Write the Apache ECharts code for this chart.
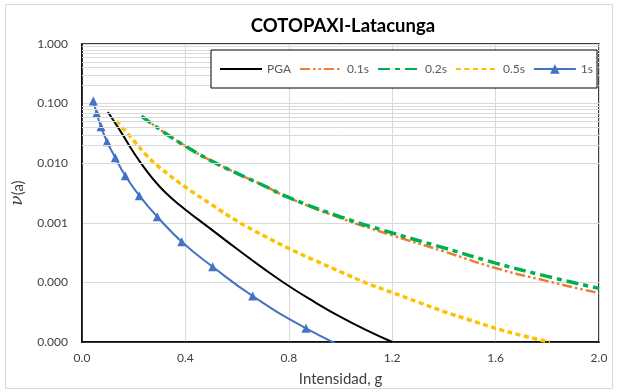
<!DOCTYPE html>
<html>
<head>
<meta charset="utf-8">
<script src="https://cdn.jsdelivr.net/npm/echarts@6/dist/echarts.min.js"></script>
<style>
  html, body { margin: 0; padding: 0; background: #fff; }
  #chart { width: 618px; height: 392px; }
</style>
</head>
<body>
<div id="chart"></div>
<script>
// Annual exceedance rate vs. intensity, COTOPAXI - Latacunga
const seriesNames = ['PGA', '0.1s', '0.2s', '0.5s', '1s'];

const pgaX = [0.1, 0.15, 0.2, 0.25, 0.3, 0.35, 0.4, 0.5, 0.6, 0.7, 0.8, 0.9, 1.0, 1.1, 1.2];
const pgaY = [0.0724, 0.0339, 0.0151, 0.00741, 0.00407, 0.00251, 0.00166, 0.000776, 0.000363,
              0.000174, 0.0000871, 0.0000468, 0.0000263, 0.0000158, 0.0000100];

const sa01X = [0.23, 0.3, 0.4, 0.5, 0.6, 0.7, 0.8, 1.0, 1.2, 1.4, 1.6, 1.8, 2.0];
const sa01Y = [0.0617, 0.0372, 0.0193, 0.01096, 0.00676, 0.00427, 0.00263, 0.00120, 0.000617,
               0.000331, 0.000174, 0.000105, 0.0000661];

const sa02X = [0.23, 0.3, 0.4, 0.5, 0.6, 0.7, 0.8, 1.0, 1.2, 1.4, 1.6, 1.8, 2.0];
const sa02Y = [0.0617, 0.0372, 0.0193, 0.01096, 0.00676, 0.00427, 0.00266, 0.00126, 0.000676,
               0.000380, 0.000211, 0.000126, 0.0000794];

const sa05X = [0.134, 0.2, 0.25, 0.3, 0.4, 0.5, 0.6, 0.7, 0.8, 0.9, 1.0, 1.1, 1.2, 1.3, 1.4, 1.5, 1.6, 1.7, 1.81];
const sa05Y = [0.0513, 0.0240, 0.0135, 0.00851, 0.00398, 0.00204, 0.00107, 0.000617, 0.000372,
               0.000234, 0.000151, 0.0000977, 0.0000676, 0.0000468, 0.0000324, 0.0000234,
               0.0000170, 0.0000129, 0.0000100];

const sa10X = [0.0437, 0.0569, 0.0735, 0.0967, 0.1288, 0.1675, 0.2217, 0.2913, 0.3857, 0.5056, 0.6603, 0.8665, 1.14];
const sa10Y = [0.1106, 0.0687, 0.0410, 0.0230, 0.01236, 0.00617, 0.00285, 0.001265, 0.000482,
               0.000183, 0.0000591, 0.0000170, 0.0000045];

const xTicks = { min: 0, max: 2.0, step: 0.4 };
const yRange = { min: 0.00001, max: 1 };

const FONT = 'Lato, "Liberation Sans", sans-serif';

function zip(xs, ys) { return xs.map((x, i) => [x, ys[i]]); }

// light minor gridlines at 2..9 within each decade of the log axis
const minorLines = [];
for (let e = -5; e < 0; e++) {
  for (let m = 2; m <= 9; m++) minorLines.push({ yAxis: m * Math.pow(10, e) });
}

// legend entries: plain line icons, except the marker series
const hidden = { opacity: 0, color: 'transparent', borderWidth: 0 };
const legendData = seriesNames.map(n => n === '1s' ? { name: n } : { name: n, itemStyle: hidden });

const chart = echarts.init(document.getElementById('chart'), null, { renderer: 'canvas' });

chart.setOption({
  animation: false,
  backgroundColor: '#fff',
  textStyle: { fontFamily: FONT },
  graphic: [{
    type: 'rect', silent: true, z: -10,
    shape: { x: 5.5, y: 4.5, width: 607, height: 384 },
    style: { fill: '#fff', stroke: '#d9d9d9', lineWidth: 1 }
  }],
  title: {
    text: 'COTOPAXI-Latacunga',
    left: 338, top: 12, textAlign: 'center',
    textStyle: { fontFamily: FONT, fontSize: 18.5, fontWeight: 'bold', color: '#000' }
  },
  legend: {
    data: legendData,
    left: 211, top: 50, z: 10,
    itemWidth: 42, itemHeight: 12, itemGap: 8,
    padding: [13, 4, 13, 8],
    borderColor: '#000', borderWidth: 1,
    backgroundColor: '#fff',
    textStyle: { fontFamily: FONT, fontSize: 12, color: '#595959' }
  },
  grid: {
    left: 82, right: 19, top: 44, bottom: 50,
    show: true, borderColor: '#000', borderWidth: 1.5,
    containLabel: false
  },
  xAxis: {
    type: 'value',
    min: xTicks.min, max: xTicks.max, interval: xTicks.step,
    name: 'Intensidad, g', nameLocation: 'middle', nameGap: 30,
    nameTextStyle: { fontFamily: FONT, fontSize: 15, color: '#404040' },
    axisLine: { show: true, lineStyle: { color: '#000', width: 1.5 } },
    axisTick: { show: false },
    axisLabel: { fontFamily: FONT, fontSize: 12, color: '#404040', margin: 10,
                 formatter: v => v.toFixed(1) },
    splitLine: { show: true, lineStyle: { color: '#d9d9d9', width: 1 } }
  },
  yAxis: {
    type: 'log', logBase: 10,
    min: yRange.min, max: yRange.max,
    name: '{v|ν}(a)', nameLocation: 'middle', nameGap: 44, nameRotate: 90,
    nameTextStyle: {
      fontFamily: FONT, fontSize: 15, color: '#404040',
      rich: { v: { fontFamily: '"DejaVu Serif", serif', fontStyle: 'italic', fontSize: 17, color: '#404040' } }
    },
    axisLine: { show: true, lineStyle: { color: '#000', width: 1.5 } },
    axisTick: { show: false },
    axisLabel: { fontFamily: FONT, fontSize: 12, color: '#404040', margin: 14,
                 formatter: v => Number(v).toFixed(3) },
    splitLine: { show: true, lineStyle: { color: '#d9d9d9', width: 1 } }
  },
  series: [
    {
      name: 'gridMinor', type: 'line', z: 1, silent: true,
      data: [], showSymbol: false,
      markLine: {
        silent: true, symbol: ['none', 'none'], label: { show: false },
        lineStyle: { color: '#d9d9d9', width: 1, type: 'solid' },
        emphasis: { disabled: true },
        data: minorLines
      }
    },
    {
      name: 'PGA', type: 'line', smooth: true, z: 3,
      data: zip(pgaX, pgaY), symbol: 'none',
      lineStyle: { color: '#000', width: 2 },
      itemStyle: { color: '#000' }
    },
    {
      name: '0.1s', type: 'line', smooth: true, z: 3,
      data: zip(sa01X, sa01Y), symbol: 'none',
      lineStyle: { color: '#ED7D31', width: 2.5, type: [10, 3, 2.5, 3, 2.5, 3] },
      itemStyle: { color: '#ED7D31' }
    },
    {
      name: '0.2s', type: 'line', smooth: true, z: 3,
      data: zip(sa02X, sa02Y), symbol: 'none',
      lineStyle: { color: '#00B050', width: 3.5, type: [12, 5, 5, 5] },
      itemStyle: { color: '#00B050' }
    },
    {
      name: '0.5s', type: 'line', smooth: true, z: 3,
      data: zip(sa05X, sa05Y), symbol: 'none',
      lineStyle: { color: '#FFC000', width: 3.5, type: [5, 3.5] },
      itemStyle: { color: '#FFC000' }
    },
    {
      name: '1s', type: 'line', smooth: true, z: 3,
      data: zip(sa10X, sa10Y), symbol: 'triangle', symbolSize: 9, showSymbol: true,
      lineStyle: { color: '#4472C4', width: 2 },
      itemStyle: { color: '#4472C4' }
    }
  ]
});
</script>
</body>
</html>
